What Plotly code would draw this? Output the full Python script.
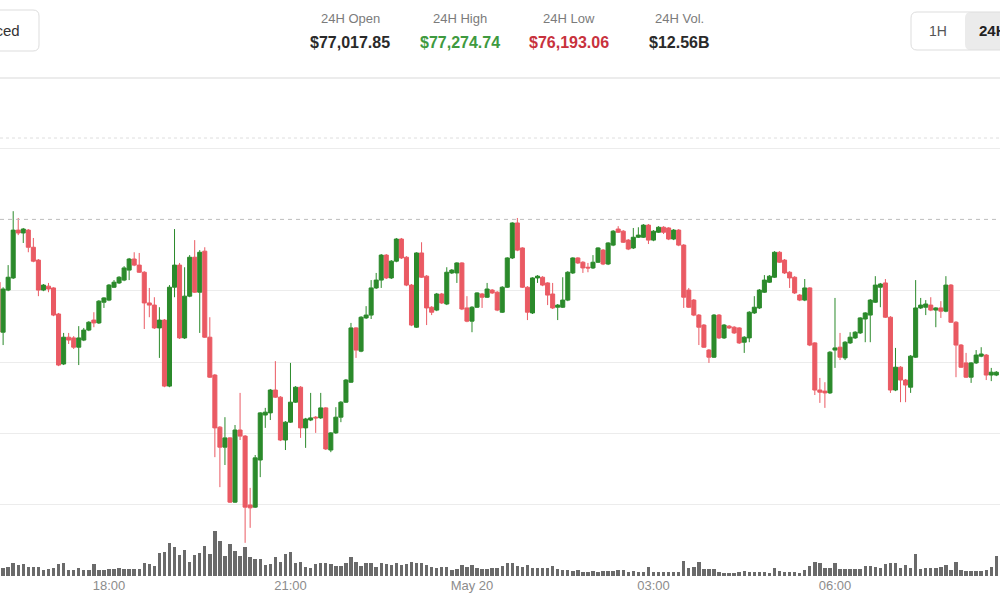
import plotly.graph_objects as go
import pandas as pd

# ---------------- data ----------------
start_time = "2025-05-19 16:10"

open_ = [77024, 76884, 77002, 77036, 77170, 77162, 77170, 77122, 77086, 77002,
         77013, 77008, 76935, 76795, 76870, 76868, 76842, 76862, 76890, 76918,
         76910, 76968, 76974, 77010, 77022, 77030, 77058, 77089, 77072, 77052,
         76966, 76960, 76896, 76918, 76733, 77010, 77072, 76868, 76985, 77094,
         76996, 77111, 76870, 76764, 76618, 76562, 76588, 76408, 76610, 76593,
         76400, 76394, 76526, 76652, 76658, 76722, 76702, 76582, 76632, 76688,
         76730, 76616, 76638, 76646, 76644, 76672, 76554, 76602, 76646, 76688,
         76744, 76896, 76831, 76924, 76932, 77008, 77030, 77100, 77036, 77083,
         77145, 77094, 77016, 76898, 77106, 77041, 76954, 76946, 76991, 76963,
         77050, 77050, 77078, 76952, 76915, 76954, 76991, 76982, 77002, 76996,
         76940, 77010, 77092, 77190, 77120, 77010, 76938, 77036, 77038, 77022,
         76991, 76954, 76954, 76974, 77050, 77092, 77080, 77066, 77064, 77080,
         77114, 77075, 77128, 77173, 77167, 77142, 77120, 77150, 77150, 77184,
         77142, 77164, 77178, 77176, 77145, 77170, 77128, 77002, 76974, 76932,
         76904, 76834, 76814, 76932, 76868, 76901, 76898, 76896, 76856, 76868,
         76938, 76952, 76996, 77024, 77038, 77108, 77086, 77052, 77038, 76988,
         76974, 77008, 76854, 76722, 76719, 76714, 76834, 76842, 76812, 76854,
         76868, 76882, 76921, 76932, 76968, 77010, 77022, 76926, 76722, 76786,
         76750, 76730, 76814, 76952, 76954, 76960, 76946, 76952, 76943, 77016,
         76912, 76848, 76798, 76758, 76798, 76817, 76820, 76764, 76764]

high_ = [77036, 77010, 77072, 77223, 77204, 77176, 77173, 77148, 77089, 77019,
         77022, 77010, 76938, 76882, 76882, 76873, 76901, 76896, 76915, 76940,
         76974, 76982, 77019, 77030, 77041, 77069, 77092, 77108, 77106, 77055,
         77008, 76982, 76954, 76921, 77016, 77173, 77078, 77066, 77100, 77142,
         77114, 77122, 76926, 76767, 76621, 76646, 76590, 76624, 76714, 76596,
         76448, 76540, 76660, 76672, 76725, 76803, 76705, 76635, 76798, 76733,
         76733, 76644, 76714, 76649, 76714, 76674, 76604, 76674, 76691, 76753,
         76910, 76898, 76929, 76957, 77030, 77050, 77103, 77103, 77086, 77148,
         77148, 77097, 77019, 77108, 77136, 77044, 76957, 76994, 76994, 77066,
         77061, 77080, 77080, 76985, 76957, 76996, 76994, 77022, 77005, 76999,
         77013, 77094, 77192, 77204, 77122, 77013, 77038, 77044, 77041, 77024,
         77022, 76963, 77038, 77055, 77094, 77094, 77083, 77078, 77100, 77122,
         77117, 77136, 77170, 77181, 77170, 77145, 77176, 77178, 77187, 77187,
         77170, 77181, 77181, 77178, 77173, 77173, 77131, 77008, 76977, 76935,
         76907, 76837, 76935, 76935, 76907, 76904, 76901, 76898, 76873, 76943,
         76985, 77005, 77044, 77044, 77111, 77111, 77089, 77055, 77041, 76991,
         77033, 77010, 76856, 76756, 76744, 76831, 76980, 76882, 76859, 76884,
         76887, 76926, 76940, 76977, 77041, 77022, 77033, 76929, 76840, 76789,
         76753, 76820, 77030, 76980, 76974, 76982, 76954, 76971, 77041, 77019,
         76915, 76851, 76826, 76800, 76834, 76842, 76823, 76784, 76775]

low_ = [76873, 76848, 76999, 77033, 77156, 77134, 77108, 77080, 76985, 76999,
        76996, 76929, 76789, 76792, 76851, 76837, 76792, 76859, 76887, 76898,
        76907, 76952, 76971, 77008, 77019, 77027, 77030, 77069, 77050, 76893,
        76926, 76893, 76812, 76730, 76730, 76982, 76865, 76865, 76982, 76994,
        76882, 76868, 76756, 76534, 76450, 76512, 76406, 76406, 76582, 76294,
        76336, 76392, 76478, 76616, 76638, 76700, 76579, 76554, 76630, 76686,
        76588, 76560, 76635, 76602, 76641, 76554, 76548, 76599, 76632, 76686,
        76742, 76812, 76828, 76921, 76921, 77005, 77008, 77033, 77033, 77080,
        77089, 77013, 76901, 76896, 77036, 76904, 76932, 76943, 76963, 76960,
        77047, 77022, 76946, 76912, 76884, 76952, 76952, 76980, 76991, 76943,
        76938, 77008, 77089, 77111, 77008, 76918, 76935, 77022, 77013, 76960,
        76949, 76918, 76952, 76971, 77047, 77075, 77050, 77052, 77061, 77078,
        77072, 77072, 77125, 77162, 77134, 77114, 77117, 77148, 77148, 77131,
        77139, 77162, 77159, 77142, 77142, 77125, 76952, 76952, 76929, 76848,
        76840, 76798, 76812, 76865, 76865, 76893, 76879, 76851, 76826, 76856,
        76935, 76949, 76994, 77022, 77036, 77078, 77047, 77008, 76991, 76971,
        76971, 76845, 76708, 76686, 76672, 76711, 76784, 76806, 76806, 76851,
        76865, 76879, 76856, 76856, 76966, 76954, 76924, 76714, 76719, 76688,
        76688, 76714, 76812, 76949, 76932, 76943, 76898, 76924, 76940, 76910,
        76758, 76784, 76756, 76742, 76795, 76814, 76750, 76747, 76761]

close_ = [76884, 77005, 77038, 77170, 77162, 77173, 77122, 77083, 77002, 77016,
          77005, 76932, 76792, 76870, 76862, 76842, 76868, 76890, 76912, 76910,
          76971, 76980, 77016, 77024, 77038, 77064, 77089, 77072, 77052, 76966,
          76960, 76896, 76918, 76733, 77010, 77072, 76868, 76985, 77094, 76996,
          77108, 76870, 76758, 76616, 76562, 76588, 76408, 76610, 76593, 76394,
          76392, 76532, 76658, 76660, 76722, 76702, 76582, 76632, 76688, 76730,
          76616, 76641, 76644, 76644, 76672, 76557, 76602, 76646, 76688, 76750,
          76896, 76834, 76926, 76932, 77008, 77030, 77100, 77036, 77083, 77145,
          77092, 77016, 76904, 77106, 77038, 76952, 76940, 76991, 76966, 77052,
          77058, 77078, 76949, 76915, 76954, 76994, 76982, 77005, 76994, 76946,
          77010, 77092, 77190, 77114, 77010, 76940, 77036, 77041, 77016, 76988,
          76952, 76960, 76974, 77052, 77092, 77078, 77064, 77064, 77080, 77120,
          77075, 77134, 77167, 77164, 77136, 77117, 77150, 77156, 77184, 77142,
          77167, 77178, 77164, 77145, 77170, 77128, 76982, 76954, 76932, 76898,
          76842, 76814, 76932, 76868, 76904, 76896, 76882, 76854, 76870, 76940,
          76954, 77002, 77030, 77041, 77108, 77080, 77050, 77036, 76994, 76974,
          77008, 76848, 76722, 76716, 76714, 76828, 76840, 76814, 76856, 76870,
          76884, 76924, 76938, 76974, 77016, 77019, 76926, 76722, 76786, 76750,
          76736, 76817, 76952, 76960, 76963, 76946, 76952, 76943, 77016, 76912,
          76848, 76786, 76758, 76798, 76820, 76823, 76764, 76772, 76772]

volume = [650, 400, 450, 650, 550, 600, 450, 450, 450, 300,
          350, 400, 600, 650, 300, 300, 400, 300, 300, 600,
          300, 300, 350, 350, 400, 350, 350, 350, 350, 650,
          600, 500, 1150, 1200, 1650, 1450, 1050, 1300, 700, 1050,
          1150, 1500, 1100, 2250, 1750, 1000, 1600, 1250, 1000, 1450,
          950, 850, 850, 550, 600, 950, 700, 1100, 1200, 650,
          700, 450, 400, 600, 650, 650, 600, 500, 500, 650,
          950, 700, 500, 650, 650, 450, 650, 600, 550, 650,
          550, 600, 700, 650, 650, 550, 450, 400, 450, 450,
          300, 350, 550, 450, 550, 400, 350, 350, 400, 400,
          500, 650, 650, 500, 450, 550, 400, 400, 400, 400,
          500, 350, 300, 300, 250, 300, 200, 200, 250, 200,
          250, 250, 250, 300, 300, 200, 250, 200, 200, 450,
          200, 200, 200, 200, 200, 200, 750, 400, 450, 700,
          350, 350, 350, 200, 150, 150, 150, 200, 250, 200,
          200, 200, 200, 150, 400, 250, 200, 200, 200, 150,
          300, 500, 700, 650, 400, 400, 650, 350, 350, 350,
          350, 350, 500, 500, 450, 400, 600, 650, 650, 400,
          550, 400, 1100, 350, 400, 400, 400, 450, 550, 300,
          700, 300, 250, 250, 250, 250, 300, 450, 1000]

tick_vals = ["2025-05-19 18:00", "2025-05-19 21:00", "2025-05-20 00:00",
             "2025-05-20 03:00", "2025-05-20 06:00", "2025-05-20 09:00"]
tick_text = ["18:00", "21:00", "May 20", "03:00", "06:00", "09:00"]
grid_prices = [76400, 76600, 76800, 77000, 77400]
ref_price = 77200

stat_labels = ["24H Open", "24H High", "24H Low", "24H Vol."]
stat_values = ["$77,017.85", "$77,274.74", "$76,193.06", "$12.56B"]

# ---------------- style ----------------
W, H = 1000, 600
GREEN = "#2b8a2b"
RED = "#ea5a63"
VOL = "#6a6a6a"
FONT = "Liberation Sans, Arial, sans-serif"

times = pd.date_range(start_time, periods=len(open_), freq="5min")


def px(x):
    return x / W


def py(y):
    return 1 - y / H


def rrect(x0, y0, x1, y1, r):
    rx, ry = r / W, r / H
    X0, X1, Y0, Y1 = px(x0), px(x1), py(y0), py(y1)
    return (f"M{X0+rx},{Y0} L{X1-rx},{Y0} Q{X1},{Y0} {X1},{Y0-ry} "
            f"L{X1},{Y1+ry} Q{X1},{Y1} {X1-rx},{Y1} L{X0+rx},{Y1} "
            f"Q{X0},{Y1} {X0},{Y1+ry} L{X0},{Y0-ry} Q{X0},{Y0} {X0+rx},{Y0} Z")


fig = go.Figure()

fig.add_trace(go.Bar(
    x=times, y=volume, yaxis="y", xaxis="x",
    marker=dict(color=VOL, line=dict(width=0)),
    width=5 * 60 * 1000 * 0.68, hoverinfo="skip", showlegend=False,
))

fig.add_trace(go.Candlestick(
    x=times, open=open_, high=high_, low=low_, close=close_,
    yaxis="y2", xaxis="x",
    increasing=dict(line=dict(color=GREEN, width=1), fillcolor=GREEN),
    decreasing=dict(line=dict(color=RED, width=1), fillcolor=RED),
    whiskerwidth=0, showlegend=False,
))

x_start = pd.Timestamp("2025-05-19 16:11:55")
x_end = pd.Timestamp("2025-05-20 08:43:39")

shapes = [
    dict(type="line", xref="paper", yref="paper", x0=0, x1=1, y0=py(78), y1=py(78),
         line=dict(color="#ececec", width=2)),
    dict(type="line", xref="paper", yref="paper", x0=0, x1=1, y0=py(138), y1=py(138),
         line=dict(color="#dedede", width=1, dash="dot")),
    dict(type="line", xref="paper", yref="y2", x0=0, x1=1, y0=ref_price, y1=ref_price,
         line=dict(color="#bdbdbd", width=1, dash="4px,4px")),
    dict(type="path", xref="paper", yref="paper", path=rrect(-20, 10, 39, 51, 6),
         line=dict(color="#dddddd", width=1), fillcolor="white"),
    dict(type="path", xref="paper", yref="paper", path=rrect(965, 12, 1030, 50, 6),
         line=dict(width=0), fillcolor="#ebebeb"),
    dict(type="path", xref="paper", yref="paper", path=rrect(911, 12, 1030, 50, 6),
         line=dict(color="#dddddd", width=1), fillcolor="rgba(0,0,0,0)"),
]

annotations = []
centers = [350, 460, 569, 679]
val_colors = ["#2a2a2a", "#3f9a3f", "#c8323d", "#2a2a2a"]
for cx, lab, val, col in zip(centers, stat_labels, stat_values, val_colors):
    annotations.append(dict(xref="paper", yref="paper", x=px(cx), y=py(18), text=lab,
                            showarrow=False, xanchor="center", yanchor="middle",
                            font=dict(family=FONT, size=13, color="#7b7b7b")))
    annotations.append(dict(xref="paper", yref="paper", x=px(cx), y=py(43), text=val,
                            showarrow=False, xanchor="center", yanchor="middle",
                            font=dict(family=FONT, size=16, color=col, weight=600)))

annotations += [
    dict(xref="paper", yref="paper", x=px(22), y=py(30), text="Advanced", showarrow=False,
         xanchor="right", yanchor="middle", xshift=0,
         font=dict(family=FONT, size=15, color="#333333")),
    dict(xref="paper", yref="paper", x=px(938), y=py(31), text="1H", showarrow=False,
         xanchor="center", yanchor="middle", font=dict(family=FONT, size=14, color="#555555")),
    dict(xref="paper", yref="paper", x=px(977), y=py(31), text="24H", showarrow=False,
         xanchor="left", yanchor="middle",
         font=dict(family=FONT, size=15, color="#222222", weight=700)),
]

fig.update_layout(
    width=W, height=H,
    margin=dict(l=0, r=0, t=0, b=0),
    paper_bgcolor="white", plot_bgcolor="rgba(0,0,0,0)",
    showlegend=False, hovermode=False,
    boxgap=0.2, boxgroupgap=0,
    bargap=0,
    font=dict(family=FONT),
    xaxis=dict(
        domain=[0, 1], anchor="y", type="date", range=[x_start, x_end],
        tickmode="array", tickvals=tick_vals, ticktext=tick_text,
        showgrid=False, zeroline=False, showline=False, ticks="",
        tickfont=dict(family=FONT, size=13, color="#8c8c8c"),
        rangeslider=dict(visible=False), automargin=False, fixedrange=True,
    ),
    yaxis=dict(
        domain=[py(576), py(576 - 59.52)], range=[0, 2976], anchor="x",
        showgrid=False, zeroline=False, showticklabels=False, showline=False,
        automargin=False, fixedrange=True,
    ),
    yaxis2=dict(
        domain=[py(576), py(80)], range=[76201.1, 77590.5], anchor="x",
        tickmode="array", tickvals=grid_prices,
        showgrid=True, gridcolor="#ececec", gridwidth=1,
        zeroline=False, showticklabels=False, showline=False, ticks="",
        automargin=False, fixedrange=True,
    ),
    shapes=shapes,
    annotations=annotations,
)

fig.write_html("out.html")
